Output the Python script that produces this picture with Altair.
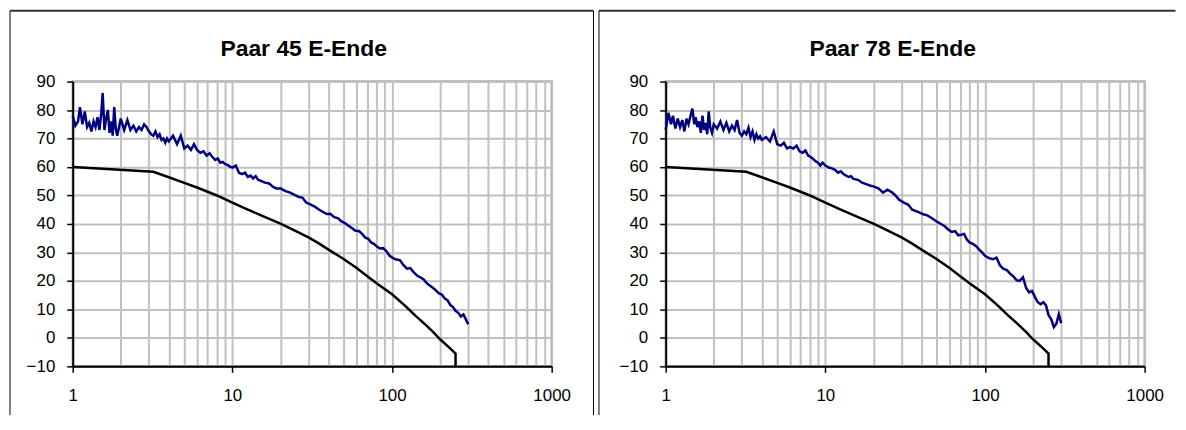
import altair as alt
import pandas as pd

# ---------------- data ----------------
titles = ["Paar 45 E-Ende", "Paar 78 E-Ende"]

freq = [
    1.00, 1.04, 1.08, 1.11, 1.15, 1.19, 1.23, 1.27, 1.31, 1.35, 1.39, 1.43, 1.47,
    1.51, 1.54, 1.58, 1.62, 1.66, 1.70, 1.74, 1.78, 1.82, 1.86, 1.90, 1.95, 2.00,
    2.1, 2.2, 2.3, 2.4, 2.5, 2.6, 2.7, 2.8, 2.9, 3.0, 3.1, 3.2, 3.3, 3.4, 3.5,
    3.6, 3.7, 3.8, 3.9, 4.0,
    4.25, 4.5, 4.75, 5.0, 5.25, 5.5, 5.75, 6.0, 6.3, 6.6, 6.9, 7.2, 7.5, 7.8,
    8.1, 8.4, 8.7, 9.0, 9.3, 9.6, 10.0,
    10.5, 11, 11.5, 12, 12.5, 13, 13.5, 14, 14.5, 15, 16, 17, 18, 19, 20,
    21.5, 23, 24.5, 26, 27.5, 29, 31, 33, 35, 37, 39, 41, 43.5, 46, 48, 50,
    53, 56, 59, 62, 65, 68, 71, 74, 77, 80, 84, 88, 92, 96, 100,
    106, 112, 118, 124, 130, 137, 144, 151, 158, 165, 173, 181, 189, 197, 205,
    214, 223, 232, 241, 250, 260, 270, 280, 290, 300,
]

paar45 = [
    78, 74.5, 76, 81, 75, 79.5, 74, 75.5, 72.5, 76, 74, 77.5, 73,
    79, 86, 73, 77, 80, 72, 76, 71, 81, 73.5, 71, 74, 77,
    73, 76.5, 73, 74.5, 72.5, 74, 73, 75, 74, 72.5, 71.5, 71, 72.5, 70.5, 71.5,
    69.5, 70, 68.5, 70, 69,
    71, 68, 71, 66.5, 67.5, 66, 68, 66, 65, 65.5, 64, 64.8, 63.5, 62.5,
    63, 61.5, 61.8, 61, 60.8, 60.2, 59.8,
    60.5, 58, 57.5, 58, 56.5, 57, 56, 56.8, 55.5, 55.2, 54.5, 54.2, 53, 52.4, 52.5,
    51.5, 51, 50.2, 49.5, 49.2, 47.5, 46.8, 46, 45, 44.2, 43.5, 43.6, 42.4, 42, 41, 40.5,
    39.5, 38.6, 37.6, 37.5, 36.5, 35.2, 34.8, 33.5, 33, 32.2, 31.4, 31.5, 30.5, 29, 28.2,
    27.5, 27.3, 25.5, 24.3, 24.5, 23, 21.8, 21.2, 20.5, 19.2, 18.3, 17.5, 16.6, 15.6, 15.2,
    13.8, 13.2, 11.5, 10.8, 9.5, 8.8, 7.5, 8.2, 6.5, 4.8,
]

paar78 = [
    73, 79, 75, 78, 73.5, 77, 74, 76.5, 72.5, 77, 75, 78, 80.5,
    75, 77.5, 74, 76, 72, 78, 73, 75.5, 71.5, 79.5, 74, 72, 75,
    73.5, 76, 73, 75.5, 72.5, 74.5, 73, 76.5, 72, 71, 72.5, 71.5, 73.8, 70.5, 72.5,
    69.5, 71.5, 70, 70.8, 69.5,
    70.5, 69, 72.5, 68, 67.5, 68.5, 66.5, 67, 66.5, 67.5, 65.5, 65, 65.8, 64,
    63.5, 62.8, 62, 61.5, 60.5, 61.5, 60.5,
    59.8, 59.5, 59, 58, 58.5, 57.5, 57, 56.5, 56.8, 55.8, 55.5, 54.5, 54, 53.5, 53.2,
    52.5, 51, 52, 51.2, 50, 48.5, 47.5, 46.8, 45, 44.5, 44, 43.4, 43, 42.2, 41.5, 40.8,
    40, 39.2, 38, 37.2, 37.5, 36, 36.2, 36.5, 34.5, 33.5, 33, 32.2, 31, 30, 28.8,
    28, 27.6, 28.2, 25.5, 24.3, 23.8, 22.5, 21.5, 20.2, 20, 21.3, 17.5, 16, 16.5, 14.5,
    12.5, 11.8, 12.5, 11.4, 8, 6.5, 3.8, 5, 8.3, 5.2,
]

limit_x = [1, 3.2, 4, 5, 6, 7, 8, 10, 12, 15, 20, 25, 30, 35, 40, 50, 60, 70, 80,
           100, 120, 140, 160, 180, 200, 225, 250, 250]
limit_y = [60, 58.3, 56.4, 54.4, 52.8, 51.3, 50.0, 47.5, 45.5, 43.1, 40.1, 37.5, 35.3,
           33.1, 31.0, 27.6, 24.5, 21.6, 19.2, 15.3, 11.4, 7.8, 4.9, 2.2, -0.5, -3.1,
           -5.5, -10]

x_grid = [1, 2, 3, 4, 5, 6, 7, 8, 9,
          10, 20, 30, 40, 50, 60, 70, 80, 90,
          100, 200, 300, 400, 500, 600, 700, 800, 900, 1000]
x_labels = [1, 10, 100, 1000]
y_ticks = [-10, 0, 10, 20, 30, 40, 50, 60, 70, 80, 90]

# ---------------- style ----------------
FONT = "Liberation Sans"
W, H = 481, 286
decade_test = "indexof([1,10,100,1000], datum.value) >= 0"


def panel(meas, title, left_off, right_off, right_border, title_x):
    meas_df = pd.DataFrame({"f": freq, "v": meas, "i": list(range(len(freq)))})
    lim_df = pd.DataFrame({"f": limit_x, "v": limit_y, "i": list(range(len(limit_x)))})

    x_enc = alt.X(
        "f:Q",
        title=None,
        scale=alt.Scale(type="log", domain=[1, 1000], nice=False),
        axis=alt.Axis(
            values=x_grid,
            format="d",
            labelExpr=decade_test + " ? datum.label : ''",
            labelOverlap=False,
            labelFlush=False,
            labelPadding=15,
            grid=True,
            gridColor="#c0c0c0",
            gridWidth=2,
            domainColor="black",
            domainWidth=2,
            tickSize=6,
            tickWidth=1.5,
            tickColor={"condition": {"test": decade_test, "value": "black"},
                       "value": "transparent"},
        ),
    )
    y_enc = alt.Y(
        "v:Q",
        title=None,
        scale=alt.Scale(domain=[-10, 90], nice=False, zero=False),
        axis=alt.Axis(
            values=y_ticks,
            labelPadding=12,
            grid=True,
            gridColor="#c0c0c0",
            gridWidth=2,
            domainColor="black",
            domainWidth=2,
            tickSize=6,
            tickWidth=1.5,
            tickColor="black",
        ),
    )

    meas_line = alt.Chart(meas_df).mark_line(color="#000080", strokeWidth=2.5).encode(
        x=x_enc, y=y_enc, order="i:Q")
    lim_line = alt.Chart(lim_df).mark_line(color="black", strokeWidth=2.5).encode(
        x=x_enc, y=y_enc, order="i:Q")

    one = alt.Data(values=[{}])
    layers = [meas_line, lim_line]
    layers.append(alt.Chart(one).mark_rule(color="#333333", strokeWidth=2).encode(
        x=alt.value(-left_off), x2=alt.value(W + right_off),
        y=alt.value(-71), y2=alt.value(-71)))
    layers.append(alt.Chart(one).mark_rule(color="black", strokeWidth=1).encode(
        x=alt.value(-left_off), x2=alt.value(-left_off),
        y=alt.value(-71), y2=alt.value(335)))
    if right_border:
        layers.append(alt.Chart(one).mark_rule(color="black", strokeWidth=1).encode(
            x=alt.value(W + right_off), x2=alt.value(W + right_off),
            y=alt.value(-71), y2=alt.value(335)))
    layers.append(alt.Chart(alt.Data(values=[{"t": title}])).mark_text(
        font=FONT, fontSize=23, fontWeight="bold", color="black",
        align="center", baseline="alphabetic").encode(
        text="t:N", x=alt.value(title_x), y=alt.value(-26)))

    return alt.layer(*layers).properties(width=W, height=H)


left = panel(paar45, titles[0], 63, 42, True, 232)
right = panel(paar78, titles[1], 67, 31, False, 228)

chart = alt.hconcat(left, right, spacing=1.5).properties(padding=0).configure_view(
    stroke="#808080", strokeWidth=2
).configure_axis(
    labelFont=FONT, labelFontSize=17, labelColor="black"
)

chart.save("out.html", embed_options={"renderer": "svg", "actions": False})
